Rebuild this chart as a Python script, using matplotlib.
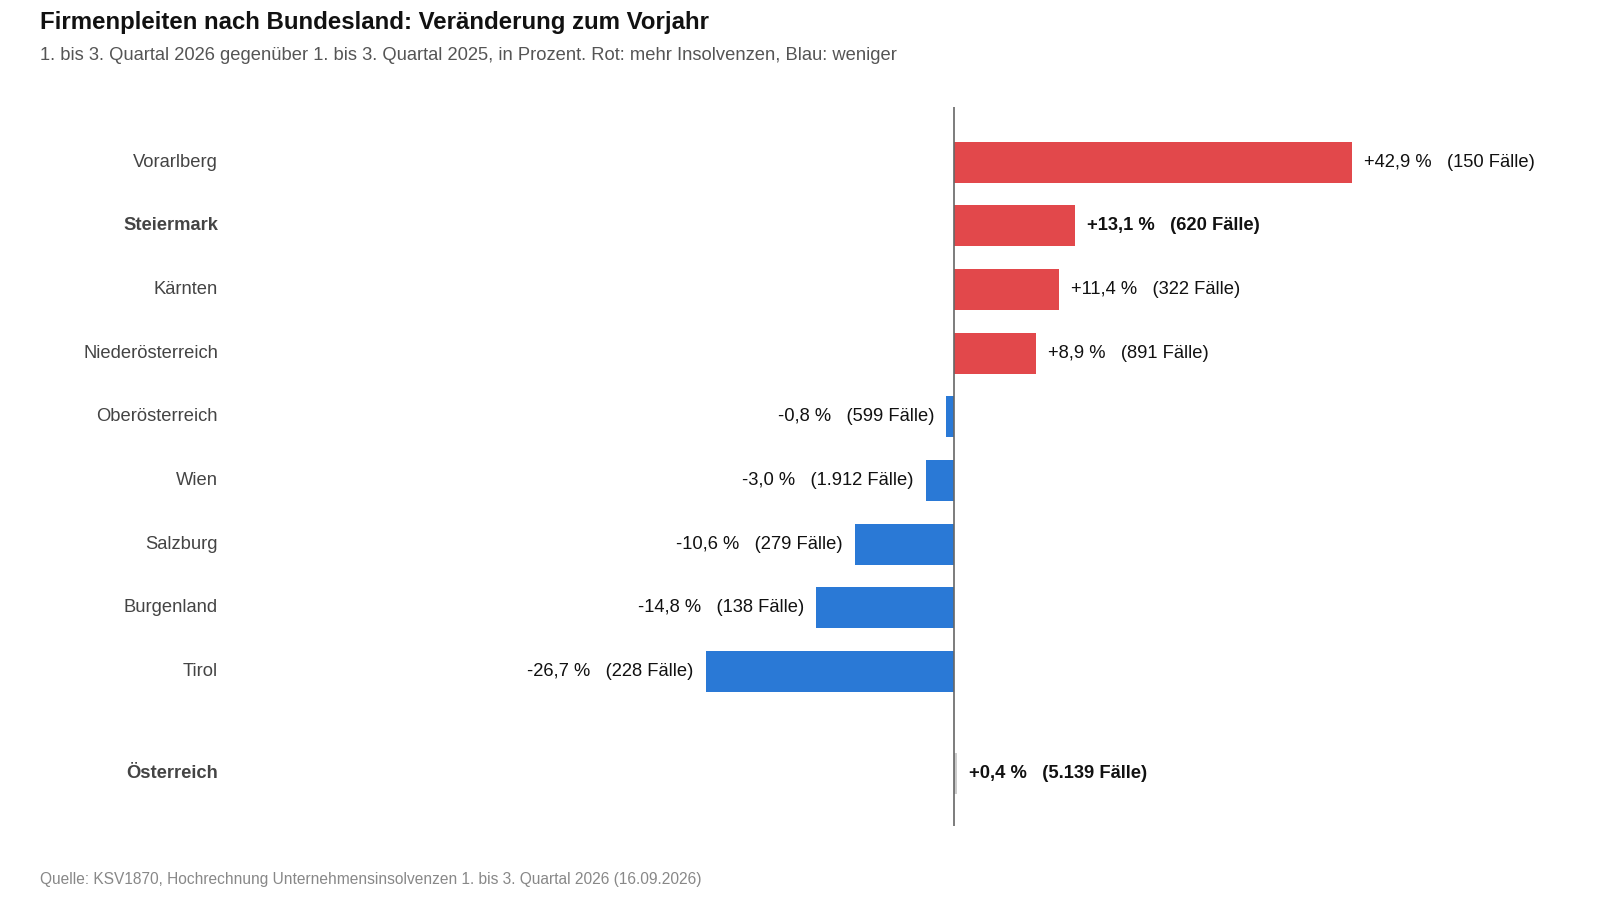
import matplotlib
matplotlib.use("Agg")
import matplotlib.pyplot as plt

plt.rcParams['font.family'] = ['Liberation Sans', 'DejaVu Sans']

regions = ["Vorarlberg", "Steiermark", "Kärnten", "Niederösterreich", "Oberösterreich",
           "Wien", "Salzburg", "Burgenland", "Tirol", "Österreich"]
changes = [42.9, 13.1, 11.4, 8.9, -0.8, -3.0, -10.6, -14.8, -26.7, 0.4]
cases = ["150", "620", "322", "891", "599", "1.912", "279", "138", "228", "5.139"]
bold = ["Steiermark", "Österreich"]
ypos = [0, 1, 2, 3, 4, 5, 6, 7, 8, 9.6]

fig = plt.figure(figsize=(16, 9), dpi=100)
ax = fig.add_axes([0.1467, 0.082, 0.83, 0.799])

for r, v, c, y in zip(regions, changes, cases, ypos):
    if r == "Österreich":
        col = "#cccccc"
    else:
        col = "#E2484B" if v > 0 else "#2A79D6"
    ax.barh(y, v, height=0.64, color=col)
    b = r in bold
    s = f"{'+' if v > 0 else ''}{v:.1f}".replace(".", ",") + f" %   ({c} Fälle)"
    off = 1.3
    if v >= 0:
        ax.text(v + off, y, s, ha="left", va="center", fontsize=13.2,
                fontweight="bold" if b else "normal", color="#111111")
    else:
        ax.text(v - off, y, s, ha="right", va="center", fontsize=13.2, color="#111111")
    ax.text(-79.2, y, r, ha="right", va="center", fontsize=13.2,
            fontweight="bold" if b else "normal", color="#444444", clip_on=False)

ax.axvline(0, color="#666666", lw=1.2)
ax.set_xlim(-77.4, 65.6)
ax.set_ylim(10.43, -0.865)
ax.axis("off")

fig.text(0.025, 0.975, "Firmenpleiten nach Bundesland: Veränderung zum Vorjahr",
         fontsize=17.3, fontweight="bold", va="center", color="#111111")
fig.text(0.025, 0.938, "1. bis 3. Quartal 2026 gegenüber 1. bis 3. Quartal 2025, in Prozent. Rot: mehr Insolvenzen, Blau: weniger",
         fontsize=13.2, va="center", color="#555555")
fig.text(0.025, 0.023, "Quelle: KSV1870, Hochrechnung Unternehmensinsolvenzen 1. bis 3. Quartal 2026 (16.09.2026)",
         fontsize=11.2, va="center", color="#888888")

fig.savefig("out.png", dpi=100)
